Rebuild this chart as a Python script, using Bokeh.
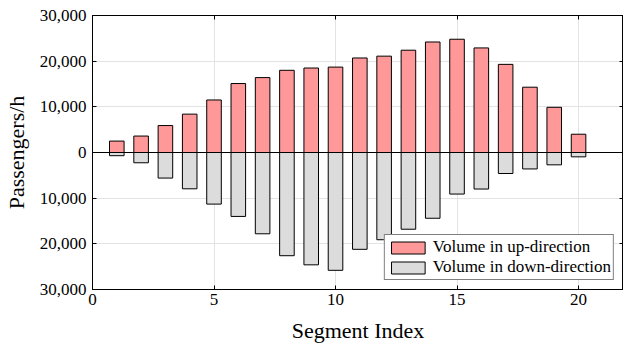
from bokeh.plotting import figure
from bokeh.models import (Range1d, LinearAxis, Span, FixedTicker, CustomJSTickFormatter,
                          Legend, LegendItem, ColumnDataSource)
from bokeh.embed import file_html
from bokeh.resources import INLINE

segments = list(range(1, 21))
up_volume = [2500, 3600, 5900, 8400, 11500, 15100, 16400, 18000, 18500, 18700,
             20700, 21100, 22400, 24200, 24800, 22900, 19300, 14300, 9900, 4000]
down_volume = [700, 2250, 5600, 7950, 11300, 14000, 17800, 22600, 24600, 25800,
               21200, 19100, 16800, 14400, 9100, 8000, 4600, 3600, 2700, 950]
x_ticks = [0, 5, 10, 15, 20]
y_ticks = [-30000, -20000, -10000, 0, 10000, 20000, 30000]

FONT = "Liberation Serif"

p = figure(width=623, height=347, output_backend="svg", toolbar_location=None,
           x_range=Range1d(0, 21.85), y_range=Range1d(-30000, 30000),
           min_border_left=92, min_border_top=15, min_border_right=0, min_border_bottom=58)

src = ColumnDataSource(dict(x=segments, up=up_volume, down=[-d for d in down_volume]))
r_up = p.vbar(x="x", top="up", bottom=0, width=0.6, source=src,
              fill_color="#FF9999", line_color="black", line_width=1)
r_down = p.vbar(x="x", top=0, bottom="down", width=0.6, source=src,
                fill_color="#DCDCDC", line_color="black", line_width=1)

p.add_layout(Span(location=0, dimension="width", line_color="black", line_width=1))

p.outline_line_color = "black"
p.outline_line_width = 1

fmt = CustomJSTickFormatter(code="return Math.abs(tick).toLocaleString('en-US');")

for ax in [p.xaxis[0], p.yaxis[0]]:
    ax.major_tick_in = 4
    ax.major_tick_out = 0
    ax.minor_tick_line_color = None
    ax.axis_line_color = "black"
    ax.major_label_text_font = FONT
    ax.major_label_text_font_size = "17px"
    ax.major_label_text_color = "black"
    ax.axis_label_text_font = FONT
    ax.axis_label_text_font_size = "22px"
    ax.axis_label_text_font_style = "normal"
    ax.axis_label_text_color = "black"

p.xaxis[0].ticker = FixedTicker(ticks=x_ticks)
p.yaxis[0].ticker = FixedTicker(ticks=y_ticks)
p.yaxis[0].formatter = fmt
p.xaxis[0].axis_label = "Segment Index"
p.yaxis[0].axis_label = "Passengers/h"
p.xaxis[0].major_label_standoff = 4
p.yaxis[0].major_label_standoff = 6
p.xaxis[0].axis_label_standoff = 10
p.yaxis[0].axis_label_standoff = 8

blank = CustomJSTickFormatter(code="return '';")
top_ax = LinearAxis(ticker=FixedTicker(ticks=x_ticks), formatter=blank,
                    major_tick_in=4, major_tick_out=0, minor_tick_line_color=None,
                    axis_line_color="black", major_label_standoff=0)
right_ax = LinearAxis(ticker=FixedTicker(ticks=y_ticks), formatter=blank,
                      major_tick_in=4, major_tick_out=0, minor_tick_line_color=None,
                      axis_line_color="black", major_label_standoff=0)
p.add_layout(top_ax, "above")
p.add_layout(right_ax, "right")

p.xgrid.ticker = FixedTicker(ticks=x_ticks)
p.ygrid.ticker = FixedTicker(ticks=y_ticks)
p.grid.grid_line_color = "#E3E3E3"
p.grid.grid_line_width = 1

legend = Legend(items=[LegendItem(label="Volume in up-direction", renderers=[r_up]),
                       LegendItem(label="Volume in down-direction", renderers=[r_down])],
                location="bottom_right")
legend.label_text_font = FONT
legend.label_text_font_size = "17px"
legend.label_text_color = "black"
legend.glyph_width = 42
legend.glyph_height = 15
legend.spacing = 0
legend.padding = 2
legend.margin = 9
legend.label_standoff = 4
legend.label_height = 17
legend.border_line_color = "black"
legend.border_line_width = 1
legend.background_fill_alpha = 1
p.add_layout(legend)

open("out.html", "w").write(file_html(p, INLINE))
